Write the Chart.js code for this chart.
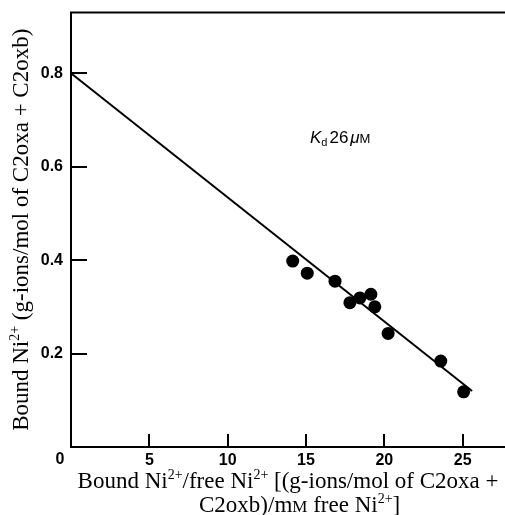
<!DOCTYPE html>
<html>
<head>
<meta charset="utf-8">
<script src="https://cdn.jsdelivr.net/npm/chart.js@4/dist/chart.umd.min.js"></script>
<style>
  html, body { margin: 0; padding: 0; background: #fff; overflow: hidden; }
  canvas { display: block; }
</style>
</head>
<body>
<canvas id="myChart" width="505" height="515"></canvas>
<script>
// data
var boundPerFree = [14.15, 15.08, 16.85, 17.8, 18.44, 19.14, 19.39, 20.24, 23.6, 25.06];
var boundNi = [0.398, 0.372, 0.355, 0.309, 0.319, 0.327, 0.3, 0.243, 0.184, 0.118];

// fitted line (scatchard)
var fitX = [0, 25.6];
var fitY = [0.8, 0.12];

// tick labels
var xTicks = [5, 10, 15, 20, 25];
var yTicks = [0.2, 0.4, 0.6, 0.8];

// annotation
var kdText = '26';
var kdAt = { x: 15.25, y: 0.651 };

var serif = '"Liberation Serif", "Times New Roman", serif';
var sans = '"Liberation Sans", Arial, Helvetica, sans-serif';
var big = '23px ' + serif;
var sup = '14px ' + serif;

// draw text made of several pieces (superscripts, small caps)
function drawRich(ctx, parts, x, y, align) {
  var total = 0;
  parts.forEach(function(p) {
    ctx.font = p.font;
    p.w = ctx.measureText(p.text).width;
    total += p.w;
  });
  var cx = align === 'center' ? x - total / 2 : x;
  ctx.textBaseline = 'alphabetic';
  ctx.textAlign = 'left';
  parts.forEach(function(p) {
    ctx.font = p.font;
    ctx.fillText(p.text, cx, y + (p.dy || 0));
    cx += p.w;
  });
}

// no extra room around the scales, the frame is placed by hand
function noPadding(scale) {
  scale.paddingLeft = 0;
  scale.paddingRight = 0;
  scale.paddingTop = 0;
  scale.paddingBottom = 0;
}

var extras = {
  id: 'extras',
  afterDraw: function(chart) {
    var ctx = chart.ctx;
    var area = chart.chartArea;
    var xs = chart.scales.x;
    var ys = chart.scales.y;
    ctx.save();
    ctx.strokeStyle = '#000';
    ctx.fillStyle = '#000';
    ctx.lineWidth = 2;

    // top frame line runs off the right edge
    ctx.beginPath();
    ctx.moveTo(area.left - 1, area.top);
    ctx.lineTo(chart.width, area.top);
    ctx.stroke();

    // inward tick marks
    ctx.beginPath();
    xTicks.forEach(function(v) {
      var px = Math.round(xs.getPixelForValue(v));
      ctx.moveTo(px, area.bottom);
      ctx.lineTo(px, area.bottom - 13);
    });
    yTicks.forEach(function(v) {
      var py = Math.round(ys.getPixelForValue(v));
      ctx.moveTo(area.left, py);
      ctx.lineTo(area.left + 16, py);
    });
    ctx.stroke();

    // shared origin label
    ctx.font = 'bold 16px ' + sans;
    ctx.textAlign = 'center';
    ctx.textBaseline = 'middle';
    ctx.fillText('0', area.left - 11, area.bottom + 13);

    // x axis title, two lines
    var mid = (area.left + area.right) / 2;
    drawRich(ctx, [
      { text: 'Bound Ni', font: big },
      { text: '2+', font: sup, dy: -9 },
      { text: '/free Ni', font: big },
      { text: '2+', font: sup, dy: -9 },
      { text: ' [(g-ions/mol of C2oxa +', font: big }
    ], mid, area.bottom + 41, 'center');
    drawRich(ctx, [
      { text: 'C2oxb)/m', font: big },
      { text: 'M', font: '17px ' + serif },
      { text: ' free Ni', font: big },
      { text: '2+', font: sup, dy: -9 },
      { text: ']', font: big }
    ], area.left + 128, area.bottom + 65, 'left');

    // y axis title, rotated
    ctx.save();
    ctx.translate(28, (area.top + area.bottom) / 2);
    ctx.rotate(-Math.PI / 2);
    drawRich(ctx, [
      { text: 'Bound Ni', font: big },
      { text: '2+', font: sup, dy: -9 },
      { text: ' (g-ions/mol of C2oxa + C2oxb)', font: big }
    ], 0, 0, 'center');
    ctx.restore();

    // K_d annotation
    drawRich(ctx, [
      { text: 'K', font: 'italic 17px ' + sans },
      { text: 'd', font: '11px ' + sans, dy: 3 },
      { text: ' ', font: '8px ' + sans },
      { text: kdText, font: '17px ' + sans },
      { text: ' ', font: '6px ' + sans },
      { text: '\u03bc', font: 'italic 17px ' + sans },
      { text: 'M', font: '13px ' + sans }
    ], xs.getPixelForValue(kdAt.x), ys.getPixelForValue(kdAt.y), 'left');

    ctx.restore();
  }
};

var ctx = document.getElementById('myChart').getContext('2d');

var points = boundPerFree.map(function(v, i) {
  return { x: v, y: boundNi[i] };
});
var fit = fitX.map(function(v, i) {
  return { x: v, y: fitY[i] };
});

var myChart = new Chart(ctx, {
  type: 'scatter',
  data: {
    datasets: [
      {
        label: 'fit',
        type: 'line',
        data: fit,
        borderColor: '#000',
        borderWidth: 2,
        pointRadius: 0,
        fill: false,
        tension: 0
      },
      {
        label: 'Bound Ni',
        data: points,
        backgroundColor: '#000',
        borderWidth: 0,
        pointRadius: 6.5
      }
    ]
  },
  options: {
    responsive: false,
    devicePixelRatio: 1,
    animation: false,
    layout: { autoPadding: false, padding: { top: 12.5, right: 0, left: 0, bottom: 0 } },
    plugins: {
      legend: { display: false },
      tooltip: { enabled: false }
    },
    scales: {
      x: {
        type: 'linear',
        min: 0,
        max: 27.7,
        afterBuildTicks: function(scale) {
          scale.ticks = xTicks.map(function(v) { return { value: v }; });
        },
        afterFit: function(scale) {
          scale.height = 68;
          noPadding(scale);
        },
        grid: { display: false, drawTicks: false },
        border: { display: true, color: '#000', width: 2 },
        ticks: {
          color: '#000',
          padding: 4,
          maxRotation: 0,
          font: { family: sans, size: 16, weight: 'bold' }
        }
      },
      y: {
        type: 'linear',
        min: 0,
        max: 0.93,
        afterBuildTicks: function(scale) {
          scale.ticks = yTicks.map(function(v) { return { value: v }; });
        },
        afterFit: function(scale) {
          scale.width = 71;
          noPadding(scale);
        },
        grid: { display: false, drawTicks: false },
        border: { display: true, color: '#000', width: 2 },
        ticks: {
          color: '#000',
          padding: 8,
          font: { family: sans, size: 16, weight: 'bold' },
          callback: function(v) { return v.toFixed(1); }
        }
      }
    }
  },
  plugins: [extras]
});
</script>
</body>
</html>
